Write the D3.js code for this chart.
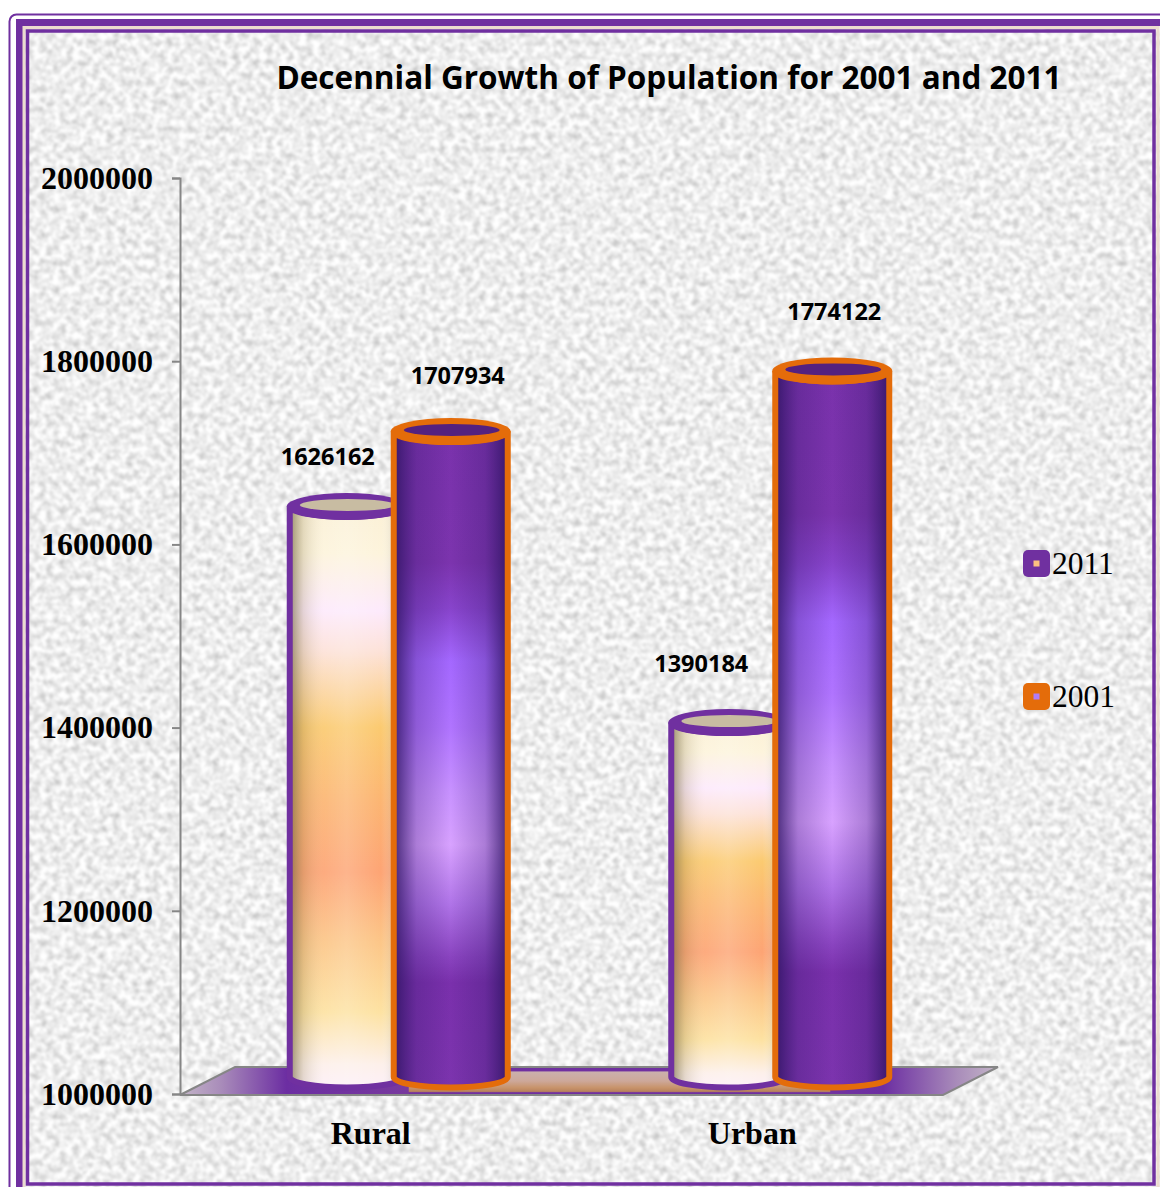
<!DOCTYPE html>
<html>
<head>
<meta charset="utf-8">
<title>Decennial Growth of Population for 2001 and 2011</title>
<script src="https://cdn.jsdelivr.net/npm/d3@7"></script>
<style>
    html, body { margin: 0; padding: 0; background: #fff; }
    svg { display: block; }
    .value-axis text, .cat-axis text { font-family: "Liberation Serif", serif; font-weight: bold; fill: #000; }
    .value-axis text { font-size: 32px; }
    .cat-axis text { font-size: 32px; }
    .bar-label { font-family: "Open Sans", sans-serif; font-weight: bold; font-size: 23.5px; fill: #000; text-anchor: middle; }
    .title { font-family: "Open Sans", sans-serif; font-weight: bold; font-size: 31.5px; fill: #000; text-anchor: middle; }
    .legend-text { font-family: "Liberation Serif", serif; font-size: 31.5px; fill: #000; }
</style>
</head>
<body>
<svg id="chart" width="1160" height="1187"></svg>
<script>
var categories = ['Rural', 'Urban'];
var seriesNames = ['2001', '2011'];
var values2001 = [1626162, 1390184];
var values2011 = [1707934, 1774122];
var valueTicks = [1000000, 1200000, 1400000, 1600000, 1800000, 2000000];
var legendNames = ['2011', '2001'];
var chartTitle = 'Decennial Growth of Population for 2001 and 2011';

var width = 1160;
var height = 1187;
var purple = '#7030a0';
var orange = '#e46c0a';
var axisGrey = '#868686';

// set the dimensions of the plot
var plot = { left: 180, right: 943, top: 178, bottom: 1094 };
var floorDepth = { x: 55, y: 28 };
var barShift = 28;      // bars stand in the middle of the floor
var barLift = 14;       // and so are drawn a little above the axis value
var rx = 57;
var ry = 10.5;

var x = d3.scaleBand().domain(categories).range([plot.left, plot.right]);
var xSeries = d3.scaleBand().domain(seriesNames).range([-104, 104]);
var y = d3.scaleLinear().domain([1000000, 2000000]).range([plot.bottom, plot.top]);

var svg = d3.select('#chart');
var defs = svg.append('defs');

// speckled paper background
var paper = defs.append('filter').attr('id', 'paper')
    .attr('x', 0).attr('y', 0).attr('width', '100%').attr('height', '100%')
    .attr('color-interpolation-filters', 'sRGB');
paper.append('feTurbulence')
    .attr('type', 'fractalNoise')
    .attr('baseFrequency', 0.15)
    .attr('numOctaves', 3)
    .attr('seed', 7);
paper.append('feColorMatrix')
    .attr('type', 'matrix')
    .attr('values', '0.42 0 0 0 0.72  0.42 0 0 0 0.72  0.42 0 0 0 0.72  0 0 0 0 1');
paper.append('feGaussianBlur').attr('stdDeviation', 0.8);

function addGradient(id, stops, horizontal) {
    var g = defs.append('linearGradient').attr('id', id)
        .attr('x1', 0).attr('y1', 0)
        .attr('x2', horizontal ? 1 : 0).attr('y2', horizontal ? 0 : 1);
    stops.forEach(function (s) {
        g.append('stop').attr('offset', s[0]).attr('stop-color', s[1]).attr('stop-opacity', s[2] === undefined ? 1 : s[2]);
    });
}

addGradient('fill2001', [
    [0, '#fbf0d6'], [0.08, '#fdf4dc'], [0.18, '#fdeafc'], [0.25, '#fde2d8'],
    [0.38, '#fbca70'], [0.5, '#fcb672'], [0.63, '#fda474'], [0.75, '#fcc688'],
    [0.87, '#fde2a2'], [0.96, '#fdf0ea'], [1, '#fdf0f8']
]);
addGradient('fill2011', [
    [0, '#7a32ac'], [0.2, '#7c34ae'], [0.27, '#8844cc'], [0.35, '#a468ff'],
    [0.45, '#b074ff'], [0.55, '#c892ff'], [0.63, '#d8a2ff'], [0.72, '#b074e8'],
    [0.8, '#8a44c0'], [0.84, '#7a30ac'], [1, '#7c34ae']
]);
addGradient('shade2001', [
    [0, '#6e6440', 0.7], [0.12, '#8a7c50', 0.22], [0.3, '#fff', 0.08], [0.5, '#fff', 0.18],
    [0.8, '#fff', 0], [1, '#6e6a60', 0.5]
], true);
addGradient('shade2011', [
    [0, '#2c1360', 0.85], [0.2, '#3a1a70', 0.28], [0.5, '#3a1a70', 0],
    [0.8, '#3a1a70', 0.28], [1, '#2c1360', 0.85]
], true);
addGradient('floorFill', [
    [0, '#c4b6c8'], [0.05, '#a98cba'], [0.13, '#6c2ea2'], [0.5, '#8a4a98'],
    [0.86, '#6c2ea2'], [0.95, '#a98cba'], [1, '#c4b6c8']
], true);
addGradient('floorMid', [
    [0, '#7030a0'], [0.1, '#7030a0'], [0.16, '#cbb0ac'], [0.5, '#cda89a'],
    [0.75, '#c8946c'], [0.9, '#b9825c'], [0.95, '#7030a0'], [1, '#7030a0']
]);

// paper and frame
svg.append('rect').attr('x', 18).attr('y', 22).attr('width', width).attr('height', height)
    .attr('filter', 'url(#paper)');

svg.append('rect').attr('x', 9.5).attr('y', 14.5).attr('width', width + 40).attr('height', height + 40)
    .attr('rx', 7).attr('fill', 'none').attr('stroke', purple).attr('stroke-width', 2);
svg.append('rect').attr('x', 19.5).attr('y', 22.5).attr('width', width + 40).attr('height', height + 40)
    .attr('fill', 'none').attr('stroke', purple).attr('stroke-width', 7);
svg.append('rect').attr('x', 24).attr('y', 27.5).attr('width', 1134).attr('height', 1170)
    .attr('fill', 'none').attr('stroke', '#ecdccf').attr('stroke-width', 3);
svg.append('rect').attr('x', 27.5).attr('y', 31).attr('width', 1126.5).attr('height', 1153)
    .attr('fill', 'none').attr('stroke', purple).attr('stroke-width', 3.5);

svg.append('text').attr('class', 'title')
    .attr('x', 669).attr('y', 89)
    .text(chartTitle);

// floor under the bars
var floorPoints = [
    [plot.left, plot.bottom + 1],
    [plot.right, plot.bottom + 1],
    [plot.right + floorDepth.x, plot.bottom + 1 - floorDepth.y],
    [plot.left + floorDepth.x, plot.bottom + 1 - floorDepth.y]
];
svg.append('polygon')
    .attr('points', floorPoints.join(' '))
    .attr('fill', 'url(#floorFill)')
    .attr('stroke', axisGrey)
    .attr('stroke-width', 2);
svg.append('rect')
    .attr('x', x(categories[0]) + x.bandwidth() / 2 + barShift + 10)
    .attr('y', plot.bottom + 2 - floorDepth.y)
    .attr('width', x(categories[1]) - x(categories[0]) + 40)
    .attr('height', floorDepth.y - 2)
    .attr('fill', 'url(#floorMid)');

// add the y axis
svg.append('g')
    .attr('class', 'value-axis')
    .attr('transform', 'translate(' + plot.left + ',0)')
    .call(d3.axisLeft(y).tickValues(valueTicks).tickFormat(d3.format('d')).tickSize(8).tickPadding(19))
    .call(function (g) {
        g.selectAll('path, line').attr('stroke', axisGrey).attr('stroke-width', 2);
    });

// add the x axis, the floor already draws its line
svg.append('g')
    .attr('class', 'cat-axis')
    .attr('transform', 'translate(0,' + plot.bottom + ')')
    .call(d3.axisBottom(x).tickSize(0).tickPadding(27))
    .call(function (g) { g.select('.domain').remove(); });

function cylinderPath(cx, topY) {
    var bottomY = y(1000000) - 17;
    return 'M' + (cx - rx) + ',' + topY +
        'L' + (cx - rx) + ',' + bottomY +
        'A' + rx + ',' + ry + ' 0 0 0 ' + (cx + rx) + ',' + bottomY +
        'L' + (cx + rx) + ',' + topY +
        'A' + rx + ',' + ry + ' 0 0 1 ' + (cx - rx) + ',' + topY + 'Z';
}

var seriesData = [
    { name: '2001', values: values2001, stroke: purple, fill: 'url(#fill2001)', shade: 'url(#shade2001)', mouth: '#c8bca2' },
    { name: '2011', values: values2011, stroke: orange, fill: 'url(#fill2011)', shade: 'url(#shade2011)', mouth: '#54217f' }
];

// labels sit off the bars by hand, like in the source chart
var labelNudge = {
    'Rural2001': [-19, -50], 'Rural2011': [7, -56],
    'Urban2001': [-27, -59], 'Urban2011': [2, -59]
};

var barGroup = svg.selectAll('.bar-group')
    .data(categories)
    .enter().append('g')
    .attr('class', 'bar-group')
    .attr('transform', function (d) {
        return 'translate(' + (x(d) + x.bandwidth() / 2 + barShift) + ',0)';
    });

barGroup.each(function (category, i) {
    var group = d3.select(this);

    seriesData.forEach(function (s) {
        var cx = xSeries(s.name) + xSeries.bandwidth() / 2;
        var topY = y(s.values[i]) - barLift;

        group.append('path')
            .attr('d', cylinderPath(cx, topY))
            .attr('fill', s.fill);
        group.append('path')
            .attr('d', cylinderPath(cx, topY))
            .attr('fill', s.shade)
            .attr('stroke', s.stroke)
            .attr('stroke-width', 6);
        // rim of the cylinder: thick band with a smaller mouth set towards the back
        group.append('ellipse')
            .attr('cx', cx).attr('cy', topY)
            .attr('rx', rx + 3).attr('ry', ry + 3)
            .attr('fill', s.stroke);
        group.append('ellipse')
            .attr('cx', cx + 1).attr('cy', topY - 1.5)
            .attr('rx', rx - 9).attr('ry', ry - 4.5)
            .attr('fill', s.mouth);
    });
});

// labels go on top of everything
barGroup.each(function (category, i) {
    var group = d3.select(this);
    seriesData.forEach(function (s) {
        var nudge = labelNudge[category + s.name];
        group.append('text')
            .attr('class', 'bar-label')
            .attr('x', xSeries(s.name) + xSeries.bandwidth() / 2 + nudge[0])
            .attr('y', y(s.values[i]) - barLift + nudge[1])
            .attr('dy', '.35em')
            .text(s.values[i]);
    });
});

// legend
var legendColor = d3.scaleOrdinal().domain(legendNames).range([purple, orange]);
var legendDot = d3.scaleOrdinal().domain(legendNames).range(['#fcbf80', '#b07cf8']);
var legendY = d3.scalePoint().domain(legendNames).range([563.5, 696.5]);

var legend = svg.selectAll('.legend-item')
    .data(legendNames)
    .enter().append('g')
    .attr('class', 'legend-item')
    .attr('transform', function (d) { return 'translate(1036.5,' + legendY(d) + ')'; });

legend.append('rect')
    .attr('x', -13.5).attr('y', -13.5).attr('width', 27).attr('height', 27).attr('rx', 5)
    .attr('fill', function (d) { return legendColor(d); });
legend.append('rect')
    .attr('x', -3).attr('y', -3).attr('width', 6).attr('height', 6)
    .attr('fill', function (d) { return legendDot(d); });
legend.append('text')
    .attr('class', 'legend-text')
    .attr('x', 15.5)
    .attr('dy', '.34em')
    .text(function (d) { return d; });
</script>
</body>
</html>
